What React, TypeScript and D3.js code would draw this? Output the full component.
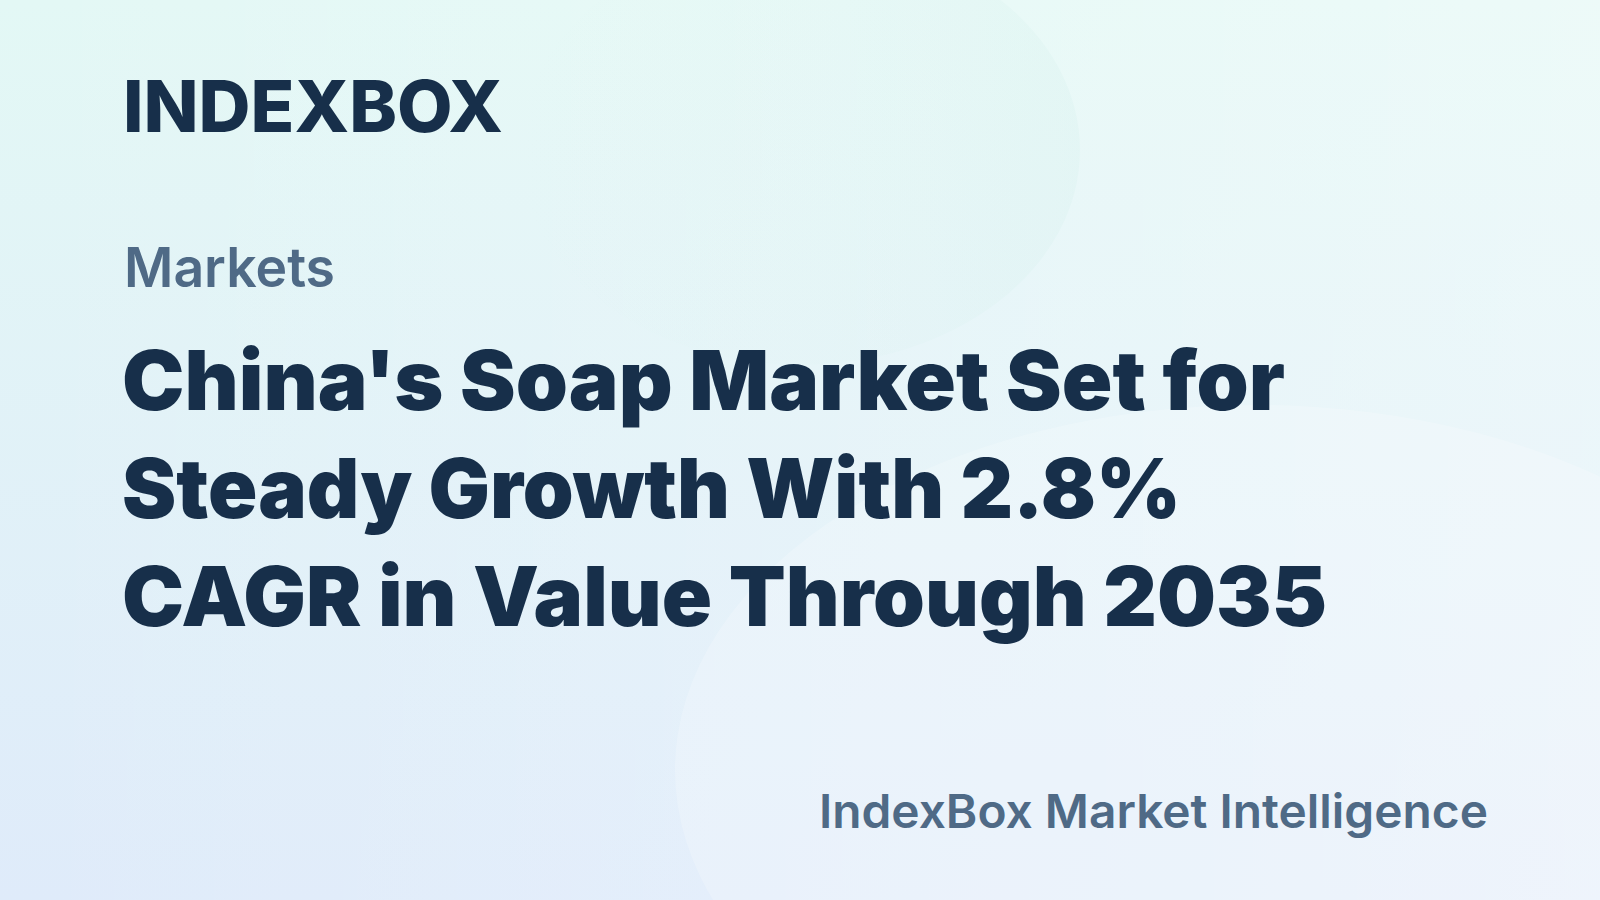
import React, { useEffect, useRef } from 'react';
import * as d3 from 'd3';

// Content
const brand = 'INDEXBOX';
const section = 'Markets';
const titleLines = [
  "China's Soap Market Set for",
  'Steady Growth With 2.8%',
  'CAGR in Value Through 2035',
];
const footer = 'IndexBox Market Intelligence';

// Measured widths (px) of each title line in the reference
const titleWidths = [1163, 1059, 1205];

const W = 1600;
const H = 900;

export default function App() {
  const svgRef = useRef<SVGSVGElement | null>(null);

  useEffect(() => {
    document.body.style.margin = '0';
    if (!svgRef.current) return;

    const svg = d3.select(svgRef.current);
    svg.selectAll('*').remove();

    const defs = svg.append('defs');

    const bg = defs.append('linearGradient')
      .attr('id', 'bg')
      .attr('x1', 0).attr('y1', 0).attr('x2', 0).attr('y2', 1);
    bg.append('stop').attr('offset', '0%').attr('stop-color', '#e3f8f5');
    bg.append('stop').attr('offset', '100%').attr('stop-color', '#dfebfa');

    const sheen = defs.append('linearGradient')
      .attr('id', 'sheen')
      .attr('x1', 0).attr('y1', 0).attr('x2', 1).attr('y2', 0);
    sheen.append('stop').attr('offset', '0%').attr('stop-color', '#ffffff').attr('stop-opacity', 0);
    sheen.append('stop').attr('offset', '100%').attr('stop-color', '#ffffff').attr('stop-opacity', 0.35);

    // blob fades out towards its left side
    const blob = defs.append('linearGradient')
      .attr('id', 'blob')
      .attr('x1', 0).attr('y1', 0).attr('x2', 1).attr('y2', 0);
    blob.append('stop').attr('offset', '0%').attr('stop-color', '#d6f0ed').attr('stop-opacity', 0);
    blob.append('stop').attr('offset', '55%').attr('stop-color', '#d6f0ed').attr('stop-opacity', 0.1);
    blob.append('stop').attr('offset', '100%').attr('stop-color', '#d6f0ed').attr('stop-opacity', 0.3);

    svg.append('rect').attr('width', W).attr('height', H).attr('fill', 'url(#bg)');
    svg.append('rect').attr('width', W).attr('height', H).attr('fill', 'url(#sheen)');

    // faint decorative blobs
    svg.append('ellipse')
      .attr('cx', 800).attr('cy', 150).attr('rx', 280).attr('ry', 215)
      .attr('fill', 'url(#blob)');
    svg.append('ellipse')
      .attr('cx', 1255).attr('cy', 770).attr('rx', 580).attr('ry', 365)
      .attr('fill', '#ffffff').attr('opacity', 0.2);

    const left = 123;
    const navy = '#172f4a';
    const slate = '#4f6a86';

    svg.append('text')
      .attr('x', left).attr('y', 132)
      .attr('font-family', 'Inter, "Noto Sans", sans-serif')
      .attr('font-weight', 800)
      .attr('font-size', 72)
      .attr('fill', navy)
      .attr('textLength', 380)
      .attr('lengthAdjust', 'spacingAndGlyphs')
      .text(brand);

    svg.append('text')
      .attr('x', left + 1).attr('y', 287)
      .attr('font-family', 'Inter, "Noto Sans", sans-serif')
      .attr('font-weight', 600)
      .attr('font-size', 55)
      .attr('fill', slate)
      .attr('textLength', 211)
      .attr('lengthAdjust', 'spacingAndGlyphs')
      .text(section);

    const lineY = d3.scaleLinear().domain([0, 1]).range([410, 518]);

    svg.append('g')
      .selectAll('text')
      .data(titleLines)
      .join('text')
      .attr('x', left - 1)
      .attr('y', (_, i) => lineY(i))
      .attr('font-family', 'Inter, "Noto Sans", sans-serif')
      .attr('font-weight', 900)
      .attr('font-size', 83)
      .attr('fill', navy)
      .attr('textLength', (_, i) => titleWidths[i])
      .attr('lengthAdjust', 'spacingAndGlyphs')
      .text(d => d);

    svg.append('text')
      .attr('x', 1488).attr('y', 828)
      .attr('text-anchor', 'end')
      .attr('font-family', 'Inter, "Noto Sans", sans-serif')
      .attr('font-weight', 560)
      .attr('font-size', 47)
      .attr('fill', slate)
      .attr('textLength', 669)
      .attr('lengthAdjust', 'spacingAndGlyphs')
      .text(footer);
  }, []);

  return (
    <svg
      ref={svgRef}
      width={W}
      height={H}
      style={{ position: 'absolute', left: 0, top: 0, display: 'block' }}
    />
  );
}
